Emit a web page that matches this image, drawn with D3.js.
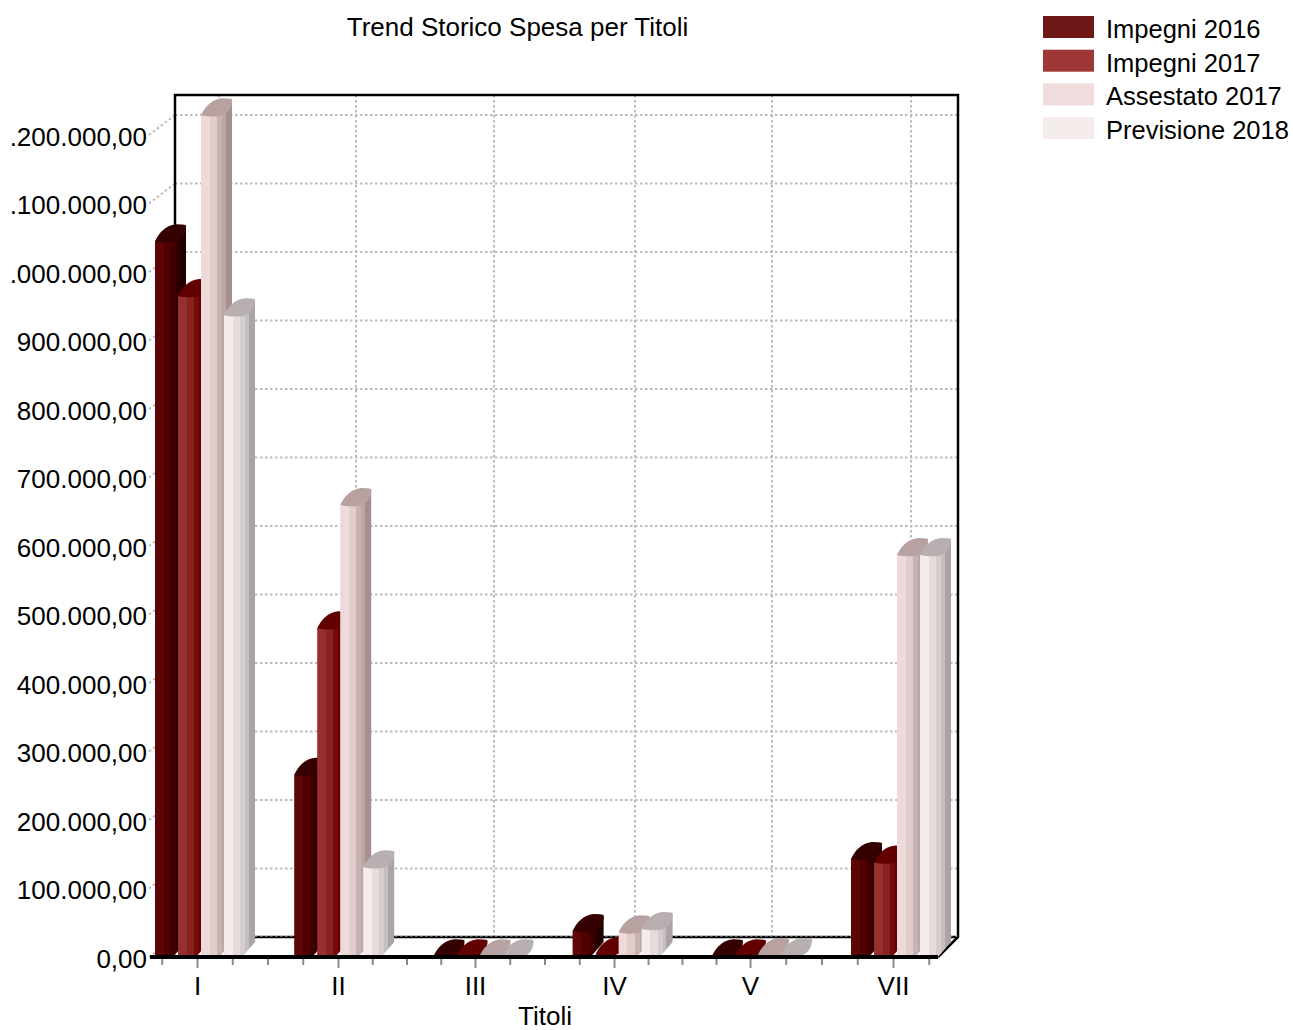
<!DOCTYPE html>
<html>
<head>
<meta charset="utf-8">
<title>Trend Storico Spesa per Titoli</title>
<script src="https://cdn.jsdelivr.net/npm/d3@7"></script>
<style>
	html, body { margin: 0; padding: 0; background: #fff; overflow: hidden; }
	svg { display: block; }
	text { font-family: "Liberation Sans", Arial, sans-serif; fill: #000; }
	.label { font-size: 26px; }
	.legend text { font-size: 25.5px; }
</style>
</head>
<body>
<div id="chart"></div>
<script>
// values
const categories = ['I', 'II', 'III', 'IV', 'V', 'VII'];
const seriesNames = ['Impegni 2016', 'Impegni 2017', 'Assestato 2017', 'Previsione 2018'];
const impegni2016 = [1045000, 266000, 1000, 38000, 1000, 143000];
const impegni2017 = [965000, 480000, 1000, 4000, 1000, 138000];
const assestato2017 = [1229000, 660000, 1000, 36000, 3000, 587000];
const previsione2018 = [937000, 131000, 1000, 41000, 3000, 587000];
const yTicks = [0, 100000, 200000, 300000, 400000, 500000, 600000, 700000, 800000, 900000, 1000000, 1100000, 1200000];
// the leading 1 falls off the left edge of the original image
const yTickLabels = ['0,00', '100.000,00', '200.000,00', '300.000,00', '400.000,00', '500.000,00', '600.000,00', '700.000,00', '800.000,00', '900.000,00', '.000.000,00', '.100.000,00', '.200.000,00'];

const legendColors = ['#6e1818', '#9e3838', '#f0dcdc', '#f5ecec'];
const stripes = [
	['#5c0606', '#500000', '#3f0000', '#2e0000', '#220000'],
	['#962f2f', '#862222', '#760a0a', '#680000', '#560000'],
	['#eedada', '#e2cdcd', '#c9b2b2', '#bca6a6', '#a48e8e'],
	['#f5ebeb', '#e6dcdc', '#d5cdcd', '#c5bfbf', '#aaa4a4']
];
const topColors = ['#350000', '#620000', '#b7a1a1', '#b8b0b0'];

const width = 1293, height = 1030;
const svg = d3.select('#chart').append('svg')
	.attr('width', width)
	.attr('height', height);

// plot box: front edge of the floor and the back wall
const front = {left: 152, right: 938, bottom: 957, top: 135},
	back = {left: 175, right: 958, bottom: 937, top: 95};

let y = d3.scaleLinear().domain([0, 1200000]).range([front.bottom, front.top]);

// six groups of four, each step is about 139px wide
let x0 = d3.scaleBand().domain(categories).range([155, 943]).paddingInner(0.339).paddingOuter(0).align(0);
let x1 = d3.scaleBand().domain(seriesNames).range([0, x0.bandwidth()]);

// the original's ticks are not quite evenly spaced
let xTick = d3.scaleLinear().domain([0, 1, 2, 3, 4, 5]).range([197, 338, 475, 614, 750, 893]);
let xWall = d3.scaleLinear().domain([0, 1, 2, 3, 4, 5]).range([219, 356, 494, 635, 772, 911]);

///////////////////////////////////////////////////////////////////
// back wall grid

const grid = svg.append('g').attr('fill', 'none').attr('stroke', '#bbb').attr('stroke-width', 2).attr('stroke-dasharray', '2.5 2.5');

grid.selectAll('.h')
	.data(yTicks.slice(1))
	.enter().append('line')
	.attr('x1', back.left)
	.attr('x2', back.right)
	.attr('y1', d => y(d) - 20)
	.attr('y2', d => y(d) - 20);

grid.selectAll('.d')
	.data(yTicks)
	.enter().append('line')
	.attr('x1', front.left - 3)
	.attr('x2', back.left)
	.attr('y1', d => y(d))
	.attr('y2', d => y(d) - 20);

grid.selectAll('.v')
	.data(d3.range(categories.length))
	.enter().append('line')
	.attr('x1', d => xWall(d))
	.attr('x2', d => xWall(d))
	.attr('y1', back.top)
	.attr('y2', back.bottom);

///////////////////////////////////////////////////////////////////
// frame

const frame = svg.append('g').attr('fill', 'none').attr('stroke', '#000').attr('stroke-width', 2.5);
frame.append('path')
	.attr('d', d3.line()([[back.left, back.bottom], [back.left, back.top], [back.right, back.top], [back.right, back.bottom], [front.right, front.bottom]]));
frame.append('line')
	.attr('x1', back.left).attr('x2', back.right)
	.attr('y1', back.bottom).attr('y2', back.bottom);
frame.append('line')
	.attr('x1', back.left).attr('x2', back.right)
	.attr('y1', back.bottom - 1).attr('y2', back.bottom - 1)
	.attr('stroke', '#ccc').attr('stroke-width', 1).attr('stroke-dasharray', '2.5 2.5');

///////////////////////////////////////////////////////////////////
// stepped gradients for the shaded bar faces

const defs = svg.append('defs');
stripes.forEach((cols, s) => {
	const stops = [0, 0.28, 0.52, 0.68, 0.8, 1];
	const grad = defs.append('linearGradient').attr('id', 'face' + s);
	cols.forEach((c, i) => {
		grad.append('stop').attr('offset', stops[i]).attr('stop-color', c);
		grad.append('stop').attr('offset', stops[i + 1]).attr('stop-color', c);
	});
});

const bw = 18, dx = 13, dy = 15;

function bodyPath(px, py) {
	const base = front.bottom;
	return 'M' + px + ',' + base +
		'V' + py +
		'L' + (px + bw + dx) + ',' + (py - dy) +
		'V' + Math.max(base - dy, py - dy) +
		'L' + (px + bw) + ',' + base + 'Z';
}

// rounded lens on top of a bar, bulging up on the left and down on the right
function topPath(px, py) {
	const r = px + bw + dx, t = py - dy - 2;
	return 'M' + px + ',' + py +
		'C' + (px + 4) + ',' + (py - 8) + ' ' + (px + 10) + ',' + (t + 1) + ' ' + (r - 10) + ',' + t +
		'Q' + (r - 3) + ',' + t + ' ' + r + ',' + (t + 1) +
		'C' + (r + 1) + ',' + (t + 9) + ' ' + (r - 5) + ',' + (py + 1) + ' ' + (px + bw - 1) + ',' + (py + 1) +
		'Q' + (px + 8) + ',' + (py + 2) + ' ' + px + ',' + py + 'Z';
}

const seriesValues = [impegni2016, impegni2017, assestato2017, previsione2018];

seriesValues.forEach((values, s) => {
	const g = svg.append('g').attr('class', 'series');
	const px = (d, i) => x0(categories[i]) + x1(seriesNames[s]);

	g.selectAll('.bar')
		.data(values)
		.enter().append('path')
		.attr('class', 'bar')
		.attr('fill', 'url(#face' + s + ')')
		.attr('d', (d, i) => bodyPath(px(d, i), y(d)));

	g.selectAll('.cap')
		.data(values)
		.enter().append('path')
		.attr('class', 'cap')
		.attr('fill', topColors[s])
		.attr('d', (d, i) => topPath(px(d, i), y(d)));
});

///////////////////////////////////////////////////////////////////
// axes

const axisY = svg.append('g')
	.attr('transform', 'translate(' + (front.left - 5) + ',1)')
	.call(d3.axisLeft(y).tickValues(yTicks).tickSize(0).tickPadding(0).tickFormat((d, i) => yTickLabels[i]));
axisY.select('.domain').remove();
axisY.selectAll('text').attr('class', 'label').attr('dy', '0.35em');

const tickSteps = d3.range(-1, 22).map(d => d / 4);
const axisX = svg.append('g')
	.attr('transform', 'translate(0,' + front.bottom + ')')
	.call(d3.axisBottom(xTick).tickValues(tickSteps).tickSize(10).tickPadding(10)
		.tickFormat(d => Number.isInteger(d) ? categories[d] : ''));
axisX.select('.domain').remove();
axisX.selectAll('line')
	.attr('stroke', '#8a8a8a')
	.attr('stroke-width', 2)
	.attr('y2', d => Number.isInteger(d) ? 11 : 8);
axisX.selectAll('text').attr('class', 'label').attr('font-family', null).attr('font-size', null);

svg.append('line')
	.attr('x1', front.left - 2).attr('x2', front.right)
	.attr('y1', front.bottom).attr('y2', front.bottom)
	.attr('stroke', '#000').attr('stroke-width', 4);

///////////////////////////////////////////////////////////////////
// titles and legend

svg.append('text')
	.attr('class', 'label')
	.attr('x', 517.5).attr('y', 36)
	.attr('text-anchor', 'middle')
	.text('Trend Storico Spesa per Titoli');

svg.append('text')
	.attr('class', 'label')
	.attr('x', 545).attr('y', 1024.5)
	.attr('text-anchor', 'middle')
	.text('Titoli');

const legend = svg.selectAll('.legend')
	.data(seriesNames)
	.enter().append('g')
	.attr('class', 'legend')
	.attr('transform', (d, i) => 'translate(1043,' + (16 + i * 33.7) + ')');

legend.append('rect')
	.attr('width', 51)
	.attr('height', 22)
	.attr('fill', (d, i) => legendColors[i]);

legend.append('text')
	.attr('x', 63)
	.attr('y', 22)
	.text(d => d);
</script>
</body>
</html>
